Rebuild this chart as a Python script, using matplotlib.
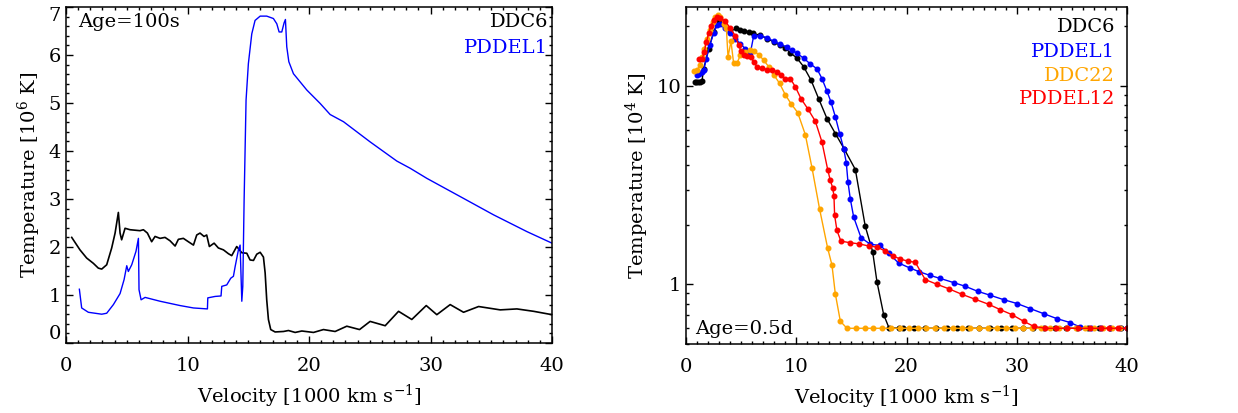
import matplotlib
matplotlib.use("Agg")
import matplotlib.pyplot as plt
from matplotlib.ticker import MultipleLocator, LogLocator, NullFormatter, FixedLocator

plt.rcParams['font.family'] = ['DejaVu Serif']
plt.rcParams['mathtext.fontset'] = 'dejavuserif'

# ---- left panel: Age = 100 s, T in 1e6 K ----
v_ddc6_100s = [0.47, 1.15, 1.70, 2.25, 2.66, 2.94, 3.35, 3.76, 4.04, 4.31, 4.45, 4.58, 4.86, 5.27,
               6.09, 6.37, 6.70, 7.05, 7.33, 7.74, 8.15, 8.56, 8.98, 9.25, 9.66, 10.07, 10.49, 10.76,
               11.03, 11.36, 11.58, 11.80, 12.19, 12.54, 12.96, 13.37, 13.64, 14.05, 14.47, 14.88,
               15.15, 15.43, 15.70, 15.98, 16.25, 16.39, 16.52, 16.66, 16.85, 17.21, 17.90, 18.31,
               18.86, 19.41, 20.37, 21.19, 22.15, 23.11, 24.16, 25.03, 26.27, 27.37, 28.46, 29.65,
               30.52, 31.62, 32.72, 33.96, 35.74, 37.11, 38.49, 40.0]
t_ddc6_100s = [2.20, 1.94, 1.77, 1.66, 1.56, 1.54, 1.63, 1.98, 2.29, 2.72, 2.29, 2.15, 2.39, 2.36,
               2.34, 2.36, 2.29, 2.11, 2.22, 2.18, 2.20, 2.13, 2.02, 2.16, 2.18, 2.11, 2.04, 2.25,
               2.29, 2.22, 2.25, 2.01, 2.08, 1.98, 1.94, 1.86, 1.82, 2.01, 1.88, 1.87,
               1.73, 1.72, 1.85, 1.89, 1.79, 1.46, 0.90, 0.49, 0.28, 0.23, 0.24, 0.26,
               0.22, 0.25, 0.22, 0.28, 0.24, 0.35, 0.28, 0.45, 0.36, 0.66, 0.49, 0.78,
               0.59, 0.80, 0.64, 0.76, 0.69, 0.71, 0.66, 0.59]

v_pddel1_100s = [1.10, 1.29, 1.84, 2.94, 3.35, 3.90, 4.45, 4.78, 5.00, 5.13, 5.41, 5.76, 5.96, 6.01,
                 6.18, 6.51, 7.74, 9.39, 10.49, 11.64, 11.67, 12.27, 12.76, 12.82, 13.23, 13.56,
                 13.78, 13.92, 14.19, 14.33, 14.47, 14.55, 14.66, 14.82, 15.01, 15.29, 15.56, 15.98,
                 16.52, 17.07, 17.35, 17.54, 17.76, 17.95, 18.06, 18.17, 18.34, 18.72, 19.82, 20.92,
                 21.74, 22.84, 25.03, 27.23, 28.33, 29.70, 32.45, 35.19, 37.94, 40.0]
t_pddel1_100s = [1.12, 0.73, 0.64, 0.60, 0.62, 0.80, 1.03, 1.32, 1.61, 1.49, 1.63, 1.91, 2.18, 1.11,
                 0.90, 0.95, 0.87, 0.78, 0.73, 0.71, 0.94, 0.97, 0.98, 1.18, 1.21, 1.35,
                 1.39, 1.59, 1.94, 2.04, 0.87, 1.18, 2.98, 5.06, 5.82, 6.44, 6.72, 6.81,
                 6.81, 6.76, 6.65, 6.48, 6.48, 6.67, 6.74, 6.17, 5.86, 5.61, 5.27, 4.99,
                 4.76, 4.61, 4.19, 3.79, 3.64, 3.43, 3.05, 2.67, 2.32, 2.08]

# ---- right panel: Age = 0.5 d, T in 1e4 K ----
v_ddc6_05d = [0.8, 0.95, 1.1, 1.25, 1.45, 1.6, 2.06, 2.5, 2.96, 3.4, 4.0, 4.56, 4.93, 5.29, 5.68,
              6.08, 6.74, 7.35, 7.95, 8.56, 9.0, 9.46, 10.07, 10.67, 11.34, 12.03, 12.79, 13.55,
              14.36, 15.36, 16.26, 16.93, 17.32, 17.93, 18.4, 19.3, 19.7, 20.7, 21.7, 22.7, 23.7,
              24.6, 25.6, 26.6, 27.6, 28.6, 29.6, 30.6, 31.5, 32.5, 33.5, 34.5, 35.5, 36.5, 37.5,
              38.5, 39.5]
t_ddc6_05d = [10.5, 10.5, 10.5, 10.5, 10.6, 12.2, 15.4, 18.7, 21.4, 20.6, 18.7, 19.6, 19.1, 18.9,
              18.7, 18.4, 18.0, 17.3, 16.7, 16.0, 15.5, 14.7, 13.8, 12.5, 10.7, 8.63, 6.84, 5.75,
              4.80, 3.79, 1.96, 1.46, 1.03, 0.703, 0.605, 0.6, 0.6, 0.6, 0.6, 0.6, 0.6,
              0.6, 0.6, 0.6, 0.6, 0.6, 0.6, 0.6, 0.6, 0.6, 0.6, 0.6, 0.6, 0.6, 0.6,
              0.6, 0.6]

v_pddel1_05d = [1.0, 1.2, 1.45, 1.6, 1.84, 2.15, 2.5, 2.81, 3.11, 3.57, 4.02, 4.47, 4.93, 5.38,
                5.68, 5.83, 6.14, 6.74, 7.35, 7.95, 8.56, 9.16, 9.61, 10.07, 10.67, 11.28, 11.88,
                12.33, 12.79, 13.15, 13.55, 13.94, 14.30, 14.54, 14.69, 14.9, 15.21, 15.87, 16.72,
                17.62, 18.38, 19.29, 20.28, 21.1, 22.1, 23.07, 24.27, 25.33, 26.45, 27.6, 28.8,
                30.02, 31.23, 32.44, 33.65, 34.86, 35.76, 36.7, 37.6, 38.5, 39.4, 40.0]
t_pddel1_05d = [11.4, 11.5, 11.8, 12.0, 13.7, 16.0, 18.4, 20.2, 20.6, 19.6, 18.4, 17.3, 16.3, 15.4,
                14.8, 14.6, 17.9, 17.9, 17.5, 16.8, 16.2, 15.7, 15.1, 14.6, 13.8, 12.9, 12.2,
                10.9, 9.40, 8.30, 6.98, 5.75, 4.83, 4.10, 3.28, 2.70, 2.18, 1.72, 1.59,
                1.57, 1.43, 1.28, 1.21, 1.16, 1.11, 1.07, 1.02, 0.977, 0.922, 0.880, 0.837,
                0.80, 0.754, 0.711, 0.671, 0.641, 0.608, 0.6, 0.6, 0.6, 0.6, 0.6]

v_ddc22_05d = [0.76, 1.0, 1.24, 1.45, 1.66, 1.9, 2.15, 2.45, 2.66, 2.87, 3.11, 3.42, 3.66, 3.81,
               4.08, 4.32, 4.62, 4.93, 5.38, 5.83, 6.14, 6.59, 7.04, 7.5, 7.95, 8.49, 9.0, 9.52,
               10.13, 10.82, 11.43, 12.12, 12.85, 13.24, 13.54, 14.0, 14.6, 15.4, 16.2, 17.0, 17.8,
               18.6, 19.4, 20.2, 21.0, 21.8, 22.6, 23.4, 24.2, 25.0, 25.8, 26.6, 27.4, 28.2, 29.0,
               29.8, 30.6, 31.4, 32.2, 33.0, 33.8, 34.6, 35.4, 36.2, 37.0, 37.8, 38.6, 39.4]
t_ddc22_05d = [11.9, 12.0, 12.7, 14.0, 15.4, 17.3, 19.1, 21.0, 22.3, 22.9, 22.3, 20.6, 19.6, 14.0,
               16.8, 13.0, 13.0, 14.3, 14.8, 15.1, 15.0, 14.4, 13.5, 12.5, 11.4, 10.3, 9.04, 8.15,
               7.34, 5.69, 3.86, 2.39, 1.52, 1.25, 0.898, 0.651, 0.6, 0.6, 0.6, 0.6, 0.6,
               0.6, 0.6, 0.6, 0.6, 0.6, 0.6, 0.6, 0.6, 0.6, 0.6, 0.6, 0.6, 0.6, 0.6,
               0.6, 0.6, 0.6, 0.6, 0.6, 0.6, 0.6, 0.6, 0.6, 0.6, 0.6, 0.6, 0.6]

v_pddel12_05d = [1.15, 1.45, 1.66, 1.84, 2.06, 2.27, 2.5, 2.81, 3.11, 3.57, 4.02, 4.47, 4.78, 4.99,
                 5.23, 5.53, 5.89, 6.14, 6.44, 6.89, 7.35, 7.8, 8.25, 8.65, 9.0, 9.46, 9.92, 10.43,
                 11.03, 11.73, 12.33, 12.85, 13.09, 13.3, 13.42, 13.48, 13.69, 14.05, 14.9, 15.66,
                 16.57, 17.32, 18.08, 18.77, 19.44, 20.1, 20.8, 21.7, 22.76, 23.82, 25.03, 26.24,
                 27.45, 28.5, 29.57, 30.62, 31.53, 32.6, 33.6, 34.6, 35.6, 36.6, 37.6, 38.4, 39.2,
                 40.0]
t_pddel12_05d = [13.6, 13.6, 14.8, 16.6, 18.4, 20.1, 21.4, 22.3, 22.0, 21.2, 19.5, 17.9, 16.0, 15.0,
                 14.4, 14.2, 14.0, 13.2, 12.5, 12.3, 12.1, 12.0, 11.8, 11.3, 10.9, 10.9, 9.89, 8.63,
                 7.69, 6.64, 5.22, 3.79, 3.34, 3.07, 2.79, 2.23, 1.87, 1.65, 1.62, 1.60,
                 1.56, 1.54, 1.47, 1.39, 1.34, 1.31, 1.29, 1.056, 1.0, 0.950, 0.890, 0.840,
                 0.793, 0.745, 0.703, 0.651, 0.614, 0.6, 0.6, 0.6, 0.6, 0.6, 0.6, 0.6, 0.6,
                 0.6]

FS = 14

fig = plt.figure(figsize=(12.38, 4.13), dpi=100)
ax1 = fig.add_axes([66 / 1238, 70 / 413, 486 / 1238, 336 / 413])
ax2 = fig.add_axes([686 / 1238, 69 / 413, 441 / 1238, 337 / 413])

# left panel
ax1.plot(v_ddc6_100s, t_ddc6_100s, color='black', lw=1.2)
ax1.plot(v_pddel1_100s, t_pddel1_100s, color='blue', lw=1.0)
ax1.set_xlim(0, 40)
ax1.set_ylim(0, 7)
ax1.xaxis.set_major_locator(MultipleLocator(10))
ax1.xaxis.set_minor_locator(MultipleLocator(1))
ax1.yaxis.set_major_locator(MultipleLocator(1))
ax1.yaxis.set_minor_locator(MultipleLocator(0.2))
ax1.set_xlabel(r'Velocity [1000 km s$^{-1}$]', fontsize=FS, labelpad=6)
ax1.set_ylabel(r'Temperature [10$^6$ K]', fontsize=FS)
ax1.text(0.025, 0.955, 'Age=100s', transform=ax1.transAxes, fontsize=FS, va='center', ha='left')
ax1.text(0.992, 0.955, 'DDC6', transform=ax1.transAxes, fontsize=FS, va='center', ha='right', color='black')
ax1.text(0.992, 0.878, 'PDDEL1', transform=ax1.transAxes, fontsize=FS, va='center', ha='right', color='blue')

# right panel
ms = 3.3
ax2.plot(v_ddc6_05d, t_ddc6_05d, color='black', lw=1.0, marker='o', ms=ms)
ax2.plot(v_pddel1_05d, t_pddel1_05d, color='blue', lw=1.0, marker='o', ms=ms)
ax2.plot(v_ddc22_05d, t_ddc22_05d, color='orange', lw=1.0, marker='o', ms=ms)
ax2.plot(v_pddel12_05d, t_pddel12_05d, color='red', lw=1.0, marker='o', ms=ms)
ax2.set_yscale('log')
ax2.set_xlim(0, 40)
ax2.set_ylim(0.5, 25)
ax2.xaxis.set_major_locator(MultipleLocator(10))
ax2.xaxis.set_minor_locator(MultipleLocator(1))
ax2.yaxis.set_major_locator(FixedLocator([1, 10]))
ax2.yaxis.set_major_formatter(matplotlib.ticker.FixedFormatter(['1', '10']))
ax2.yaxis.set_minor_locator(LogLocator(base=10, subs=range(2, 10)))
ax2.yaxis.set_minor_formatter(NullFormatter())
ax2.set_xlabel(r'Velocity [1000 km s$^{-1}$]', fontsize=FS, labelpad=6)
ax2.set_ylabel(r'Temperature [10$^4$ K]', fontsize=FS)
ax2.text(0.02, 0.045, 'Age=0.5d', transform=ax2.transAxes, fontsize=FS, va='center', ha='left')
names = ['DDC6', 'PDDEL1', 'DDC22', 'PDDEL12']
cols = ['black', 'blue', 'orange', 'red']
ys = [0.941, 0.866, 0.795, 0.727]
for n, c, y in zip(names, cols, ys):
    ax2.text(0.973, y, n, transform=ax2.transAxes, fontsize=FS, va='center', ha='right', color=c)

for ax in (ax1, ax2):
    ax.tick_params(which='both', direction='in', top=True, right=True, labelsize=FS, width=1)
    ax.tick_params(which='major', length=5)
    ax.tick_params(which='minor', length=2.5)
    ax.tick_params(axis='x', pad=10)
    for s in ax.spines.values():
        s.set_linewidth(1.1)

# keep the edge labels on the left panel inside the figure
fig.canvas.draw()
labs = ax1.get_yticklabels()
for lab in labs:
    if lab.get_text() == '7':
        lab.set_va('top')
    if lab.get_text() == '0':
        lab.set_va('bottom')

fig.savefig('out.png', dpi=100)
